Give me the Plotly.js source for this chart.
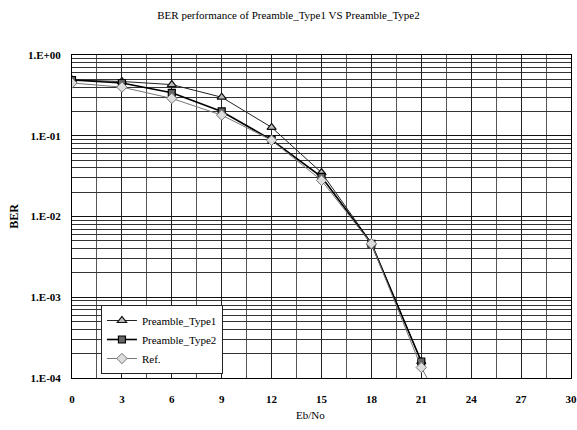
<!DOCTYPE html>
<html>
<head>
<meta charset="utf-8">
<script src="https://cdn.plot.ly/plotly-3.0.1.min.js"></script>
<style>html,body{margin:0;padding:0;background:#fff;}#chart{width:577px;height:430px;}</style>
</head>
<body>
<div id="chart"></div>
<script>
const ebno = [0, 3, 6, 9, 12, 15, 18, 21];
const type1 = [0.49, 0.47, 0.43, 0.30, 0.127, 0.035, 0.0047, 0.00016];
const type2 = [0.49, 0.45, 0.34, 0.20, 0.089, 0.031, 0.0046, 0.00016];
const refX = [0, 3, 6, 9, 12, 15, 18, 21, 24];
const refY = [0.45, 0.40, 0.29, 0.18, 0.088, 0.028, 0.0046, 0.000135, 0.00001];
const yTickVals = [1, 0.1, 0.01, 0.001, 0.0001];
const yTickText = ['1.E+00', '1.E-01', '1.E-02', '1.E-03', '1.E-04'];
const xTickVals = [0, 3, 6, 9, 12, 15, 18, 21, 24, 27, 30];

const serif = '"Liberation Serif", "Times New Roman", Times, serif';
const yMinor = [];
for (let e = -4; e < 0; e++) for (let m = 2; m <= 9; m++) yMinor.push(m * Math.pow(10, e));

const traces = [
  {x: ebno, y: type1, name: 'Preamble_Type1', mode: 'lines+markers',
   line: {color: '#222', width: 1},
   marker: {symbol: 'triangle-up', size: 8, color: '#bbb', line: {color: '#111', width: 1.2}}},
  {x: ebno, y: type2, name: 'Preamble_Type2', mode: 'lines+markers',
   line: {color: '#000', width: 1.6},
   marker: {symbol: 'square', size: 7, color: '#666', line: {color: '#000', width: 1.2}}},
  {x: refX, y: refY, name: 'Ref.', mode: 'lines+markers',
   line: {color: '#777', width: 1},
   marker: {symbol: 'diamond', size: 8, color: '#ddd', line: {color: '#777', width: 1}}}
];

const layout = {
  width: 577, height: 430,
  margin: {l: 72, r: 6, t: 55, b: 52},
  paper_bgcolor: '#fff', plot_bgcolor: '#fff',
  font: {family: serif, color: '#000', size: 11},
  title: {text: 'BER performance of Preamble_Type1 VS Preamble_Type2',
          font: {family: serif, size: 11, color: '#000'}, x: 0.5, xanchor: 'center', y: 0.965, yanchor: 'middle'},
  showlegend: true,
  legend: {x: 0.058, y: 0.226, xanchor: 'left', yanchor: 'top',
           bgcolor: '#fff', bordercolor: '#222', borderwidth: 1,
           font: {family: serif, size: 11, color: '#000'},
           tracegroupgap: 0, itemwidth: 30},
  xaxis: {
    range: [0, 30], tickmode: 'array', tickvals: xTickVals,
    showline: true, mirror: true, linecolor: '#000', linewidth: 1,
    showgrid: true, gridcolor: '#222', gridwidth: 1,
    zeroline: false, ticks: '', ticklabelstandoff: 11,
    tickfont: {family: serif, size: 11, color: '#000', weight: 'bold'},
    minor: {tickmode: 'array', tickvals: [1.5, 4.5, 7.5, 10.5, 13.5, 16.5, 19.5, 22.5, 25.5, 28.5],
            showgrid: true, gridcolor: '#555', gridwidth: 1, ticks: ''},
    title: {text: ''}
  },
  yaxis: {
    type: 'log', range: [-4, 0], tickmode: 'array', tickvals: yTickVals, ticktext: yTickText,
    showline: true, mirror: true, linecolor: '#000', linewidth: 1,
    showgrid: true, gridcolor: '#111', gridwidth: 1,
    zeroline: false, ticks: '', ticklabelstandoff: 8,
    tickfont: {family: serif, size: 11, color: '#000', weight: 'bold'},
    minor: {tickmode: 'array', tickvals: yMinor, showgrid: true, gridcolor: '#333', gridwidth: 1, ticks: ''},
    title: {text: 'BER', font: {family: serif, size: 12, color: '#000', weight: 'bold'}, standoff: 6}
  },
  annotations: [
    {text: 'Eb/No', xref: 'paper', yref: 'paper', x: 0.477, y: -0.115, xanchor: 'center', yanchor: 'middle',
     showarrow: false, font: {family: serif, size: 11, color: '#000'}}
  ]
};

Plotly.newPlot('chart', traces, layout, {displayModeBar: false, staticPlot: true});
</script>
</body>
</html>
